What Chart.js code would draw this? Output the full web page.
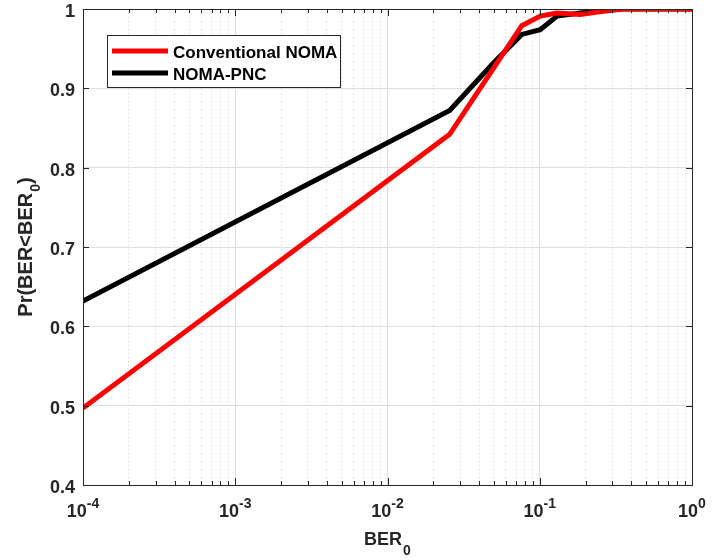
<!DOCTYPE html>
<html>
<head>
<meta charset="utf-8">
<script src="https://cdn.jsdelivr.net/npm/chart.js@4.4.1/dist/chart.umd.min.js"></script>
<style>
  html, body { margin: 0; padding: 0; background: #fff; }
  #wrap { width: 727px; height: 560px; }
</style>
</head>
<body>
<div id="wrap"><canvas id="chart" width="727" height="560"></canvas></div>
<script>
// data
const berValues = [1e-4, 0.0256, 0.05, 0.0762, 0.1007, 0.13, 0.1845, 0.261, 0.35, 0.5, 0.7, 1];
const conventionalNoma = [0.497, 0.842, 0.926, 0.979, 0.991, 0.995, 0.993, 0.997, 1, 1, 1, 1];
const nomaPnc = [0.632, 0.872, 0.9325, 0.968, 0.974, 0.991, 0.995, 0.998, 1, 1, 1, 1];
const seriesLabels = ['Conventional NOMA', 'NOMA-PNC'];
const seriesColors = ['#ff0000', '#000000'];
const xDecadeExponents = [-4, -3, -2, -1, 0];
const yTickValues = [0.4, 0.5, 0.6, 0.7, 0.8, 0.9, 1];
const yTickLabels = ['0.4', '0.5', '0.6', '0.7', '0.8', '0.9', '1'];

const FONT = '"Liberation Sans", Arial, Helvetica, sans-serif';
const AXIS_COLOR = '#262626';

const isDecade = (v) => {
  const e = Math.log10(v);
  return Math.abs(e - Math.round(e)) < 1e-9;
};

// 1..9 x 10^e positions for the log grid
const xGridTicks = [];
xDecadeExponents.forEach((e, i) => {
  if (i === xDecadeExponents.length - 1) {
    xGridTicks.push(Math.pow(10, e));
    return;
  }
  for (let k = 1; k <= 9; k++) xGridTicks.push(k * Math.pow(10, e));
});

const matlabAxes = {
  id: 'matlabAxes',
  afterDatasetsDraw(chart) {
    const { ctx, chartArea: a, scales: { x, y } } = chart;
    ctx.save();
    ctx.strokeStyle = AXIS_COLOR;
    ctx.lineWidth = 1;
    ctx.beginPath();
    // x ticks, bottom and top, inward
    xGridTicks.forEach((v) => {
      const px = Math.round(x.getPixelForValue(v)) + 0.5;
      const len = isDecade(v) ? 7 : 4;
      ctx.moveTo(px, a.bottom);
      ctx.lineTo(px, a.bottom - len);
      ctx.moveTo(px, a.top);
      ctx.lineTo(px, a.top + len);
    });
    // y ticks, left and right
    yTickValues.forEach((v) => {
      const py = Math.round(y.getPixelForValue(v)) + 0.5;
      ctx.moveTo(a.left, py);
      ctx.lineTo(a.left + 6, py);
      ctx.moveTo(a.right, py);
      ctx.lineTo(a.right - 6, py);
    });
    ctx.stroke();
    ctx.strokeRect(Math.round(a.left) + 0.5, Math.round(a.top) + 0.5,
      Math.round(a.right - a.left), Math.round(a.bottom - a.top));
    ctx.restore();
  },
  afterDraw(chart) {
    const { ctx, chartArea: a, scales: { x, y } } = chart;
    ctx.save();
    ctx.fillStyle = AXIS_COLOR;

    // y tick labels
    ctx.font = 'bold 18px ' + FONT;
    ctx.textAlign = 'right';
    ctx.textBaseline = 'alphabetic';
    yTickValues.forEach((v, i) => {
      ctx.fillText(yTickLabels[i], a.left - 8, y.getPixelForValue(v) + 8);
    });

    // x tick labels 10^e
    ctx.textAlign = 'left';
    xDecadeExponents.forEach((e) => {
      const px = x.getPixelForValue(Math.pow(10, e));
      ctx.font = 'bold 18px ' + FONT;
      const base = '10';
      const wb = ctx.measureText(base).width;
      ctx.font = 'bold 14px ' + FONT;
      const sup = String(e);
      const ws = ctx.measureText(sup).width;
      const x0 = px - (wb + ws) / 2;
      ctx.font = 'bold 18px ' + FONT;
      ctx.fillText(base, x0, 517);
      ctx.font = 'bold 14px ' + FONT;
      ctx.fillText(sup, x0 + wb, 508);
    });

    // x axis title BER_0
    ctx.font = 'bold 18px ' + FONT;
    const wt = ctx.measureText('BER').width;
    ctx.font = 'bold 14px ' + FONT;
    const wsub = ctx.measureText('0').width;
    const cx = (a.left + a.right) / 2;
    const tx = cx - (wt + wsub + 1) / 2;
    ctx.font = 'bold 18px ' + FONT;
    ctx.fillText('BER', tx, 545);
    ctx.font = 'bold 14px ' + FONT;
    ctx.fillText('0', tx + wt + 1, 555);

    // y axis title Pr(BER<BER_0)
    ctx.save();
    const cy = (a.top + a.bottom) / 2;
    ctx.translate(32, cy);
    ctx.rotate(-Math.PI / 2);
    ctx.font = 'bold 20px ' + FONT;
    const p1 = 'Pr(BER<BER';
    const w1 = ctx.measureText(p1).width;
    const w3 = ctx.measureText(')').width;
    ctx.font = 'bold 14px ' + FONT;
    const w2 = ctx.measureText('0').width;
    let sx = -(w1 + w2 + w3 + 1) / 2;
    ctx.font = 'bold 20px ' + FONT;
    ctx.fillText(p1, sx, 0);
    ctx.font = 'bold 14px ' + FONT;
    ctx.fillText('0', sx + w1 + 1, 8);
    ctx.font = 'bold 20px ' + FONT;
    ctx.fillText(')', sx + w1 + w2 + 1, 0);
    ctx.restore();

    // legend box
    const lx = 107, ly = 35, lw = 233, lh = 52;
    ctx.fillStyle = '#ffffff';
    ctx.fillRect(lx, ly, lw, lh);
    ctx.strokeStyle = AXIS_COLOR;
    ctx.lineWidth = 1;
    ctx.strokeRect(lx + 0.5, ly + 0.5, lw, lh);
    const rows = [51, 73];
    chart.data.datasets.forEach((ds, i) => {
      ctx.strokeStyle = ds.borderColor;
      ctx.lineWidth = 5;
      ctx.beginPath();
      ctx.moveTo(112, rows[i]);
      ctx.lineTo(168, rows[i]);
      ctx.stroke();
      ctx.fillStyle = '#000000';
      ctx.font = 'bold 17px ' + FONT;
      ctx.textAlign = 'left';
      ctx.fillText(ds.label, 173, rows[i] + 7);
    });
    ctx.restore();
  }
};

const makeSeries = (vals) => berValues.map((b, i) => ({ x: b, y: vals[i] }));

const config = {
  type: 'line',
  data: {
    datasets: [
      {
        label: seriesLabels[0],
        data: makeSeries(conventionalNoma),
        borderColor: seriesColors[0],
        borderWidth: 5,
        pointRadius: 0,
        tension: 0,
        fill: false,
      },
      {
        label: seriesLabels[1],
        data: makeSeries(nomaPnc),
        borderColor: seriesColors[1],
        borderWidth: 5,
        pointRadius: 0,
        tension: 0,
        fill: false,
      },
    ],
  },
  options: {
    responsive: false,
    animation: false,
    devicePixelRatio: 1,
    layout: { padding: { left: 83, right: 35, top: 9, bottom: 75 } },
    plugins: {
      legend: { display: false },
      tooltip: { enabled: false },
    },
    scales: {
      x: {
        type: 'logarithmic',
        min: 1e-4,
        max: 1,
        afterBuildTicks: (scale) => {
          scale.ticks = xGridTicks.map((v) => ({ value: v }));
        },
        afterFit: (scale) => { scale.height = 0; },
        ticks: { display: false, autoSkip: false },
        grid: {
          drawTicks: false,
          lineWidth: 1,
          color: (ctx) => (ctx.tick && isDecade(ctx.tick.value) ? '#dedede' : '#d2d2d2'),
        },
        border: {
          display: false,
          dash: (ctx) => (ctx.tick && !isDecade(ctx.tick.value) ? [1, 3] : []),
        },
      },
      y: {
        type: 'linear',
        min: 0.4,
        max: 1,
        afterBuildTicks: (scale) => {
          scale.ticks = yTickValues.map((v) => ({ value: v }));
        },
        afterFit: (scale) => { scale.width = 0; },
        ticks: { display: false },
        grid: { drawTicks: false, lineWidth: 1, color: '#dedede' },
        border: { display: false },
      },
    },
  },
  plugins: [matlabAxes],
};

new Chart(document.getElementById('chart'), config);
</script>
</body>
</html>
